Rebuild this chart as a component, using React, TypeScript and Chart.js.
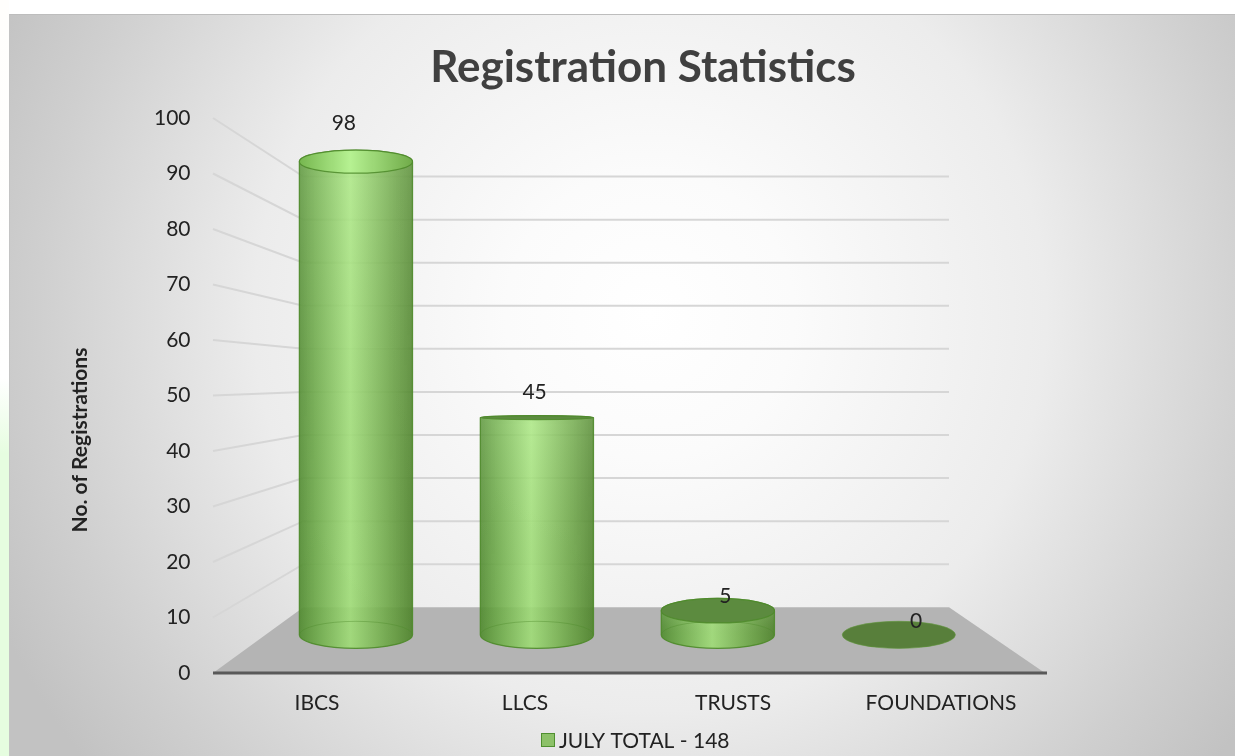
import React, { useEffect, useRef } from "react";
import { Chart, registerables } from "chart.js";

Chart.register(...registerables);

// ---- data ----
const categories = ["IBCS", "LLCS", "TRUSTS", "FOUNDATIONS"];
const registrations = [98, 45, 5, 0];
const seriesLabel = "JULY TOTAL - 148";
const chartTitle = "Registration Statistics";
const yAxisTitle = "No. of Registrations";
const yMin = 0;
const yMax = 100;
const yStep = 10;

// ---- style ----
const FONT = "Lato, 'Open Sans', 'Liberation Sans', sans-serif";
const TEXT = "#222222";
const persp = {
  backS: 0.776,
  midS: 0.87,
  labelS: 0.917,
  vxFrac: 0.485,
  vyFrac: 0.5287,
  ryK: 0.053,
  labelLift: 27,
};

function geometry(chart: any) {
  const a = chart.chartArea;
  const vx = a.left + persp.vxFrac * (a.right - a.left);
  const vy = a.bottom - persp.vyFrac * (a.bottom - a.top);
  const P = (x: number, y: number, s: number) => ({ x: vx + s * (x - vx), y: vy + s * (y - vy) });
  return { a, vx, vy, P };
}

function drawCylinder(ctx: CanvasRenderingContext2D, cx: number, cyT: number, cyB: number, rx: number, ryT: number, ryB: number, capAbove: boolean) {
  const hasBody = cyB - cyT > 0.5;
  if (!hasBody) {
    ctx.beginPath();
    ctx.ellipse(cx, cyB, rx, ryB, 0, 0, Math.PI * 2);
    ctx.fillStyle = "#587f3b";
    ctx.fill();
    ctx.strokeStyle = "rgba(96,150,60,0.6)";
    ctx.lineWidth = 1;
    ctx.stroke();
    return;
  }
  const bodyPath = () => {
    ctx.beginPath();
    ctx.moveTo(cx - rx, cyT);
    ctx.lineTo(cx - rx, cyB);
    ctx.ellipse(cx, cyB, rx, ryB, 0, Math.PI, 0, true);
    ctx.lineTo(cx + rx, cyT);
    ctx.ellipse(cx, cyT, rx, ryT, 0, 0, Math.PI, true);
    ctx.closePath();
  };
  const g = ctx.createLinearGradient(cx - rx, 0, cx + rx, 0);
  g.addColorStop(0, "rgba(86,146,52,0.92)");
  g.addColorStop(0.14, "rgba(110,174,72,0.9)");
  g.addColorStop(0.45, "rgba(166,230,124,0.9)");
  g.addColorStop(0.78, "rgba(114,174,74,0.9)");
  g.addColorStop(1, "rgba(84,138,48,0.93)");
  bodyPath();
  ctx.fillStyle = g;
  ctx.fill();
  // mild vertical lighting
  const vg = ctx.createLinearGradient(0, cyT, 0, cyB);
  vg.addColorStop(0, "rgba(255,255,255,0.10)");
  vg.addColorStop(1, "rgba(0,0,0,0.04)");
  bodyPath();
  ctx.fillStyle = vg;
  ctx.fill();
  ctx.strokeStyle = "rgba(78,138,42,0.9)";
  ctx.lineWidth = 1.3;
  ctx.stroke();
  // faint back arc of the base
  ctx.beginPath();
  ctx.ellipse(cx, cyB, rx, ryB, 0, Math.PI, Math.PI * 2);
  ctx.strokeStyle = "rgba(78,138,42,0.4)";
  ctx.lineWidth = 1;
  ctx.stroke();
  // cap
  ctx.beginPath();
  ctx.ellipse(cx, cyT, rx, ryT, 0, 0, Math.PI * 2);
  if (capAbove) {
    const cg = ctx.createLinearGradient(cx - rx, 0, cx + rx, 0);
    cg.addColorStop(0, "rgba(118,184,78,0.9)");
    cg.addColorStop(0.45, "rgba(182,242,146,0.95)");
    cg.addColorStop(1, "rgba(112,172,72,0.9)");
    ctx.fillStyle = cg;
  } else {
    ctx.fillStyle = "#5c8b3f";
  }
  ctx.fill();
  ctx.strokeStyle = "rgba(78,138,42,0.85)";
  ctx.lineWidth = 1.2;
  ctx.stroke();
}

const scenePlugin = {
  id: "scene3d",
  beforeDraw(chart: any) {
    const ctx: CanvasRenderingContext2D = chart.ctx;
    const { a, P } = geometry(chart);
    const y = chart.scales.y;
    ctx.save();
    // floor
    const bl = P(a.left, a.bottom, persp.backS);
    const br = P(a.right, a.bottom, persp.backS);
    ctx.beginPath();
    ctx.moveTo(a.left, a.bottom);
    ctx.lineTo(a.right, a.bottom);
    ctx.lineTo(br.x, br.y);
    ctx.lineTo(bl.x, bl.y);
    ctx.closePath();
    ctx.fillStyle = "#b4b4b4";
    ctx.fill();
    // gridlines: side wall + back wall
    ctx.strokeStyle = "#d6d6d6";
    ctx.lineWidth = 2;
    y.ticks.forEach((t: any) => {
      if (t.value === yMin) return;
      const fy = y.getPixelForValue(t.value);
      const b = P(a.left, fy, persp.backS);
      const e = P(a.right, fy, persp.backS);
      ctx.beginPath();
      ctx.moveTo(a.left, fy);
      ctx.lineTo(b.x, b.y);
      ctx.lineTo(e.x, e.y);
      ctx.stroke();
    });
    // front edge
    ctx.beginPath();
    ctx.moveTo(a.left, a.bottom);
    ctx.lineTo(a.right + 2, a.bottom);
    ctx.strokeStyle = "#595959";
    ctx.lineWidth = 3;
    ctx.stroke();
    ctx.restore();
  },
  beforeDatasetsDraw(chart: any) {
    const ctx: CanvasRenderingContext2D = chart.ctx;
    const { vy, P } = geometry(chart);
    const meta = chart.getDatasetMeta(0);
    const values = chart.data.datasets[0].data as number[];
    ctx.save();
    meta.data.forEach((bar: any) => {
      const { x, y, base, width } = bar.getProps(["x", "y", "base", "width"], true);
      const t = P(x, y, persp.midS);
      const b = P(x, base, persp.midS);
      const rx = (width * persp.midS) / 2;
      const ryT = Math.max(1.5, persp.ryK * Math.abs(t.y - vy));
      const ryB = Math.max(1.5, persp.ryK * Math.abs(b.y - vy));
      drawCylinder(ctx, b.x, t.y, b.y, rx, ryT, ryB, t.y < vy);
    });
    // data labels
    ctx.font = `21px ${FONT}`;
    ctx.fillStyle = TEXT;
    ctx.textAlign = "center";
    ctx.textBaseline = "middle";
    meta.data.forEach((bar: any, i: number) => {
      const { x, y } = bar.getProps(["x", "y"], true);
      const p = P(x, y, persp.labelS);
      ctx.fillText(String(values[i]), p.x + 2, p.y - persp.labelLift);
    });
    ctx.restore();
    return false;
  },
  afterDraw(chart: any) {
    const ctx: CanvasRenderingContext2D = chart.ctx;
    ctx.save();
    // title
    ctx.font = `bold 44px ${FONT}`;
    ctx.fillStyle = "#404040";
    ctx.textAlign = "center";
    ctx.textBaseline = "middle";
    ctx.fillText(chartTitle, 643, 68);
    // y axis title
    ctx.save();
    ctx.translate(80, 440);
    ctx.rotate(-Math.PI / 2);
    ctx.font = `bold 21px ${FONT}`;
    ctx.fillStyle = TEXT;
    ctx.fillText(yAxisTitle, 0, 0);
    ctx.restore();
    // legend
    ctx.font = `21px ${FONT}`;
    const tw = ctx.measureText(seriesLabel).width;
    const box = 14;
    const gap = 4;
    const lx = 541;
    const ly = 740;
    ctx.fillStyle = "#8cc168";
    ctx.fillRect(lx, ly - box / 2, box, box);
    ctx.strokeStyle = "#4f8f2f";
    ctx.lineWidth = 1;
    ctx.strokeRect(lx + 0.5, ly - box / 2 + 0.5, box - 1, box - 1);
    ctx.fillStyle = TEXT;
    ctx.textAlign = "left";
    ctx.fillText(seriesLabel, lx + box + gap, ly + 1, tw);
    ctx.restore();
  },
};

export default function App() {
  const ref = useRef<HTMLCanvasElement>(null);
  useEffect(() => {
    const canvas = ref.current!;
    const chart = new Chart(canvas, {
      type: "bar",
      data: {
        labels: categories,
        datasets: [
          {
            label: seriesLabel,
            data: registrations,
            backgroundColor: "#8cc168",
            borderColor: "#4f8f2f",
            barPercentage: 0.625,
            categoryPercentage: 1,
          },
        ],
      },
      options: {
        responsive: false,
        animation: false,
        devicePixelRatio: 1,
        layout: { padding: { top: 118, right: 190, left: 0, bottom: 0 } },
        plugins: {
          legend: { display: false },
          title: { display: false },
          tooltip: { enabled: false },
        },
        scales: {
          x: {
            grid: { display: false, drawTicks: false },
            border: { display: false },
            ticks: { font: { family: FONT, size: 21 }, color: TEXT, padding: 17.4 },
            afterFit: (s: any) => {
              s.height = 83;
            },
          },
          y: {
            min: yMin,
            max: yMax,
            grid: { display: false, drawTicks: false },
            border: { display: false },
            ticks: { stepSize: yStep, font: { family: FONT, size: 21 }, color: TEXT, padding: 22.5 },
            afterFit: (s: any) => {
              s.width = 213;
            },
          },
        },
      },
      plugins: [scenePlugin],
    });
    return () => chart.destroy();
  }, []);
  return (
    <div style={{ position: "fixed", left: 0, top: 0, width: 1235, height: 756, background: "#ffffff", overflow: "hidden" }}>
      <div
        style={{
          position: "absolute",
          left: 0,
          top: 0,
          width: 9,
          height: 756,
          background: "linear-gradient(#fffefc 0%, #ffffff 50%, #e6fde0 60%, #e6fde0 100%)",
        }}
      />
      <div
        style={{
          position: "absolute",
          left: 9,
          top: 14,
          width: 1226,
          height: 742,
          boxSizing: "border-box",
          borderTop: "1px solid #bdbdbd",
          borderLeft: "1px solid #c4c4c4",
          background:
            "radial-gradient(circle 720px at 640px 300px, #ffffff 0%, #fbfbfb 20%, #ececec 55%, #cfcfcf 85%, #c2c2c2 100%)",
        }}
      />
      <canvas ref={ref} width={1235} height={756} style={{ position: "absolute", left: 0, top: 0, width: 1235, height: 756 }} />
    </div>
  );
}
